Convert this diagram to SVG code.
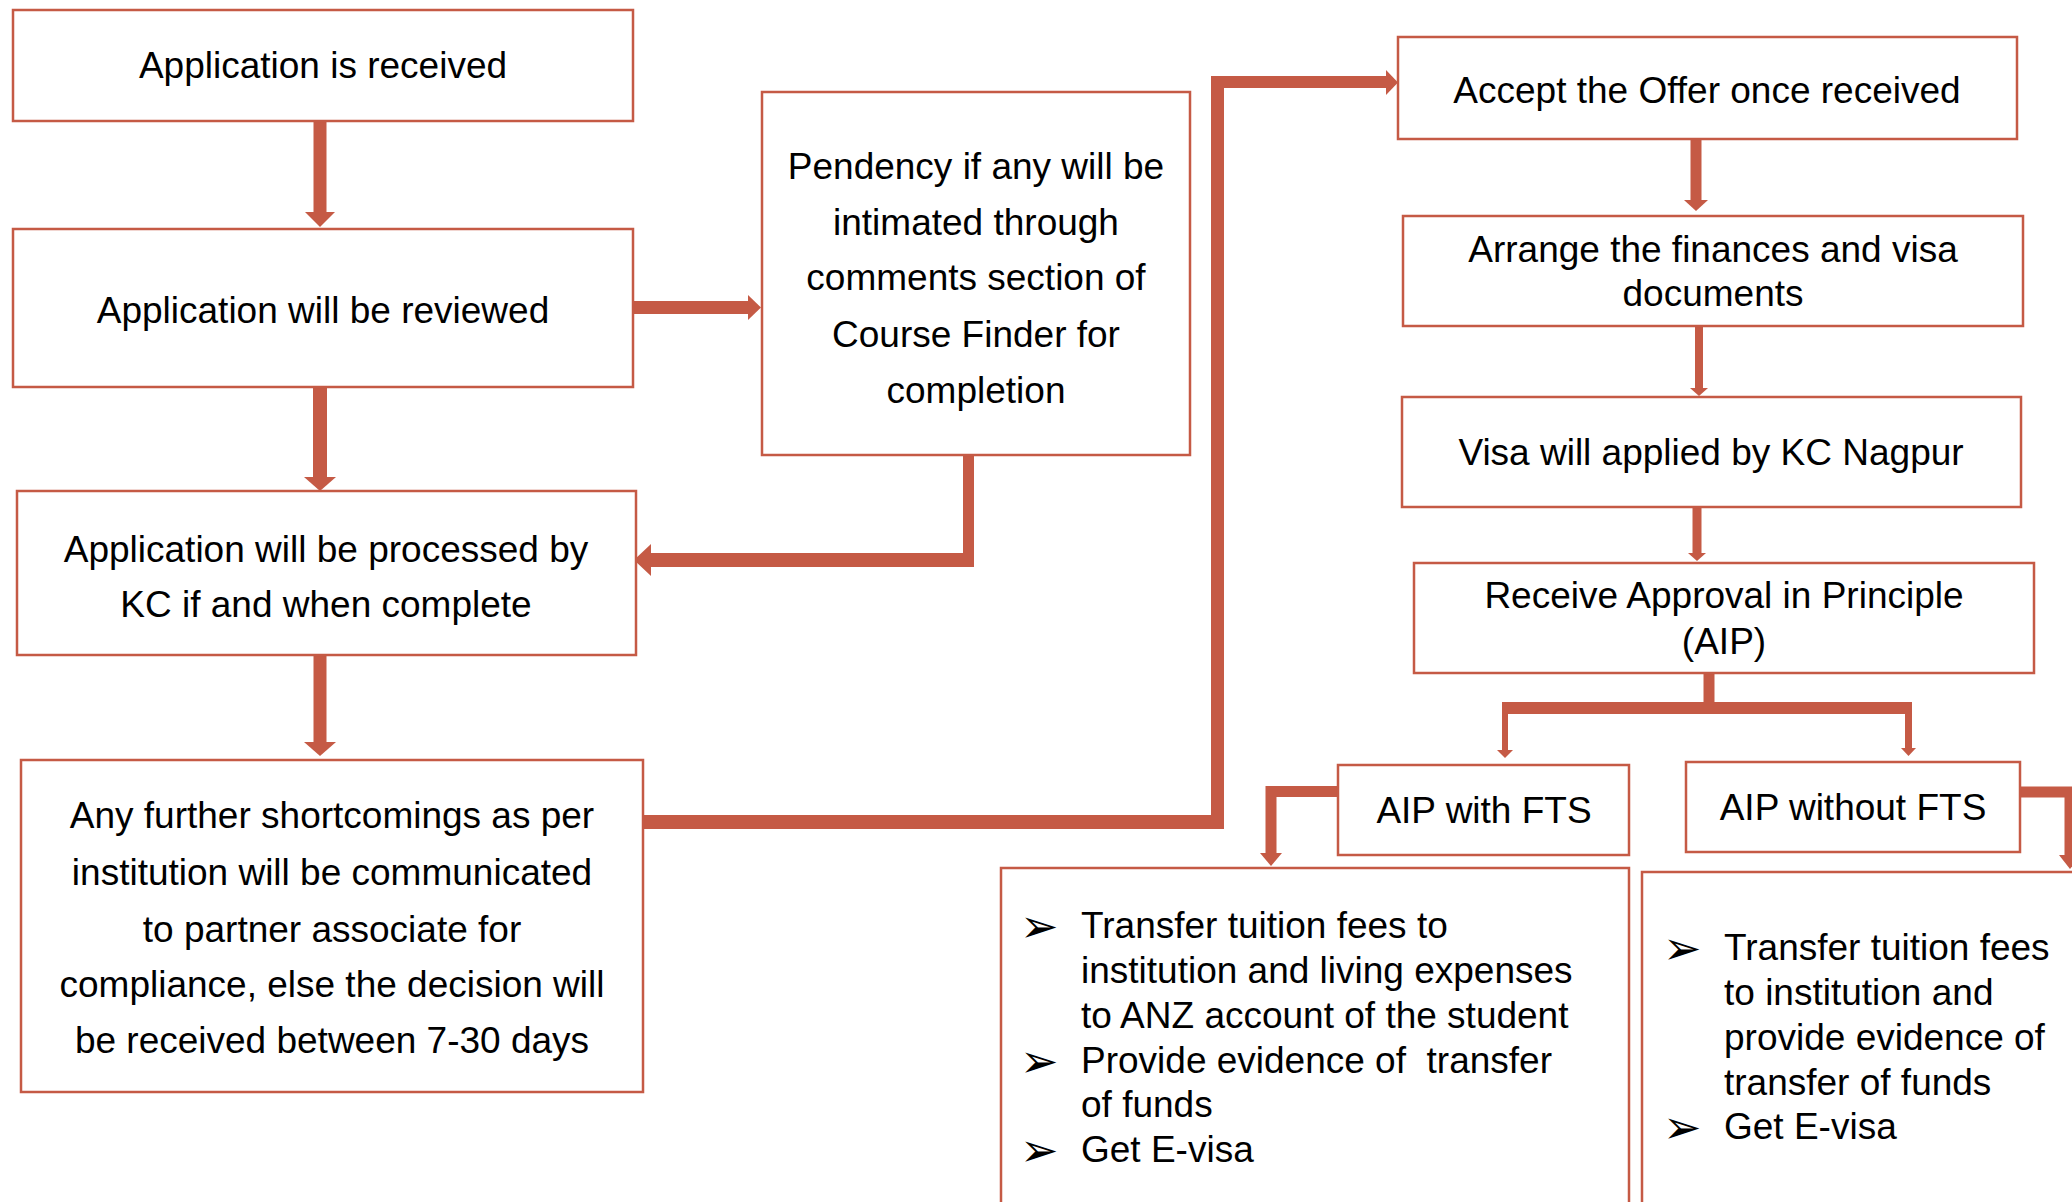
<svg xmlns="http://www.w3.org/2000/svg" width="2072" height="1202" viewBox="0 0 2072 1202">
<style>
.box{fill:#FFFFFF;stroke:#C55A45;stroke-width:2.5}
.t{font-family:"Liberation Sans",Arial,sans-serif;font-size:37px;fill:#000000;text-anchor:middle}
.tl{font-family:"Liberation Sans",Arial,sans-serif;font-size:37px;fill:#000000}
.bul{font-family:"DejaVu Sans",sans-serif;font-size:46px;fill:#000000}
.c{fill:none;stroke:#C55A45;stroke-linejoin:miter;stroke-linecap:butt}
.h{fill:#C55A45}
</style>
<rect width="2072" height="1202" fill="#FFFFFF"/>

<g id="connectors">
  <path class="c" d="M320 121 V213" stroke-width="13"/>
  <polygon class="h" points="305,212 335,212 320,227"/>
  <path class="c" d="M320 387 V478" stroke-width="14"/>
  <polygon class="h" points="304,477 336,477 320,491"/>
  <path class="c" d="M320 655 V743" stroke-width="13"/>
  <polygon class="h" points="304,742 336,742 320,756"/>
  <path class="c" d="M633 307.5 H749" stroke-width="13"/>
  <polygon class="h" points="748,295 748,320 761,307.5"/>
  <path class="c" d="M968.5 455 V567" stroke-width="11"/>
  <path class="c" d="M974 560 H650" stroke-width="14"/>
  <polygon class="h" points="651,544 651,576 634,560"/>
  <path class="c" d="M643 822 H1224" stroke-width="14"/>
  <path class="c" d="M1217.5 829 V76" stroke-width="13"/>
  <path class="c" d="M1211 82 H1388" stroke-width="12"/>
  <polygon class="h" points="1386,70 1386,95 1398,82.5"/>
  <path class="c" d="M1696 139 V201" stroke-width="11"/>
  <polygon class="h" points="1684,200 1708,200 1696,211"/>
  <path class="c" d="M1699 326 V389" stroke-width="8"/>
  <polygon class="h" points="1690,388 1708,388 1699,396"/>
  <path class="c" d="M1697 507 V554" stroke-width="9"/>
  <polygon class="h" points="1688,553 1706,553 1697,561"/>
  <path class="c" d="M1709 673 V714" stroke-width="11"/>
  <path class="c" d="M1502 708 H1912" stroke-width="12"/>
  <path class="c" d="M1505 714 V751" stroke-width="6"/>
  <polygon class="h" points="1497,750 1513,750 1505,758"/>
  <path class="c" d="M1908.5 714 V749" stroke-width="7"/>
  <polygon class="h" points="1901,748 1916,748 1908.5,756"/>
  <path class="c" d="M1338 791.5 H1271 V854" stroke-width="11"/>
  <polygon class="h" points="1260,853 1282,853 1271,866"/>
  <path class="c" d="M2020 792 H2070 V856" stroke-width="11"/>
  <polygon class="h" points="2059,855 2081,855 2070,869"/>
</g>

<g id="n-received">
  <rect class="box" x="13" y="10" width="620" height="111"/>
  <text class="t" x="323" y="78">Application is received</text>
</g>
<g id="n-reviewed">
  <rect class="box" x="13" y="229" width="620" height="158"/>
  <text class="t" x="323" y="323">Application will be reviewed</text>
</g>
<g id="n-processed">
  <rect class="box" x="17" y="491" width="619" height="164"/>
  <text class="t" x="326" y="562">Application will be processed by</text>
  <text class="t" x="326" y="617">KC if and when complete</text>
</g>
<g id="n-shortcomings">
  <rect class="box" x="21" y="760" width="622" height="332"/>
  <text class="t" x="332" y="828">Any further shortcomings as per</text>
  <text class="t" x="332" y="885">institution will be communicated</text>
  <text class="t" x="332" y="942">to partner associate for</text>
  <text class="t" x="332" y="997">compliance, else the decision will</text>
  <text class="t" x="332" y="1053">be received between 7-30 days</text>
</g>
<g id="n-pendency">
  <rect class="box" x="762" y="92" width="428" height="363"/>
  <text class="t" x="976" y="179">Pendency if any will be</text>
  <text class="t" x="976" y="235">intimated through</text>
  <text class="t" x="976" y="290">comments section of</text>
  <text class="t" x="976" y="347">Course Finder for</text>
  <text class="t" x="976" y="403">completion</text>
</g>
<g id="n-accept">
  <rect class="box" x="1398" y="37" width="619" height="102"/>
  <text class="t" x="1707" y="103">Accept the Offer once received</text>
</g>
<g id="n-arrange">
  <rect class="box" x="1403" y="216" width="620" height="110"/>
  <text class="t" x="1713" y="262">Arrange the finances and visa</text>
  <text class="t" x="1713" y="306">documents</text>
</g>
<g id="n-visa">
  <rect class="box" x="1402" y="397" width="619" height="110"/>
  <text class="t" x="1711" y="465">Visa will applied by KC Nagpur</text>
</g>
<g id="n-aip">
  <rect class="box" x="1414" y="563" width="620" height="110"/>
  <text class="t" x="1724" y="608">Receive Approval in Principle</text>
  <text class="t" x="1724" y="654">(AIP)</text>
</g>
<g id="n-with-fts">
  <rect class="box" x="1338" y="765" width="291" height="90"/>
  <text class="t" x="1484" y="823">AIP with FTS</text>
</g>
<g id="n-without-fts">
  <rect class="box" x="1686" y="762" width="334" height="90"/>
  <text class="t" x="1853" y="820">AIP without FTS</text>
</g>
<g id="n-with-steps">
  <path class="box" d="M1001 1202 V868 H1629 V1202"/>
  <text class="bul" x="1020" y="942">➢</text>
  <text class="tl" x="1081" y="938">Transfer tuition fees to</text>
  <text class="tl" x="1081" y="983">institution and living expenses</text>
  <text class="tl" x="1081" y="1028">to ANZ account of the student</text>
  <text class="bul" x="1020" y="1077">➢</text>
  <text class="tl" x="1081" y="1073" xml:space="preserve">Provide evidence of  transfer</text>
  <text class="tl" x="1081" y="1117">of funds</text>
  <text class="bul" x="1020" y="1166">➢</text>
  <text class="tl" x="1081" y="1162">Get E-visa</text>
</g>
<g id="n-without-steps">
  <path class="box" d="M1642 1202 V872 H2080"/>
  <text class="bul" x="1663" y="964">➢</text>
  <text class="tl" x="1724" y="960">Transfer tuition fees</text>
  <text class="tl" x="1724" y="1005">to institution and</text>
  <text class="tl" x="1724" y="1050">provide evidence of</text>
  <text class="tl" x="1724" y="1095">transfer of funds</text>
  <text class="bul" x="1663" y="1143">➢</text>
  <text class="tl" x="1724" y="1139">Get E-visa</text>
</g>
</svg>
